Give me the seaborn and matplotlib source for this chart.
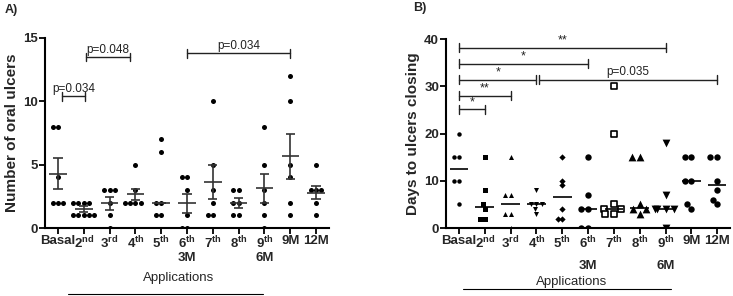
import numpy as np
import pandas as pd
import matplotlib
matplotlib.use("Agg")
import matplotlib.pyplot as plt
import matplotlib.transforms as mtransforms
import seaborn as sns

# groups (applications)
cats = ["Basal", "2nd", "3rd", "4th", "5th", "6th", "7th", "8th", "9th", "9M", "12M"]
tick_labels = ["Basal", r"$\mathbf{2^{nd}}$", r"$\mathbf{3^{rd}}$", r"$\mathbf{4^{th}}$",
               r"$\mathbf{5^{th}}$", r"$\mathbf{6^{th}}$", r"$\mathbf{7^{th}}$",
               r"$\mathbf{8^{th}}$", r"$\mathbf{9^{th}}$", "9M", "12M"]

# A) number of oral ulcers per patient
ulcers = {
    "Basal": [8, 8, 4, 2, 2, 2],
    "2nd": [2, 2, 2, 2, 1, 1, 1, 1, 1],
    "3rd": [3, 3, 3, 2, 1, 0],
    "4th": [5, 3, 2, 2, 2, 2],
    "5th": [7, 6, 2, 2, 1, 1],
    "6th": [4, 4, 3, 1, 0, 0],
    "7th": [10, 5, 3, 2, 1, 1],
    "8th": [3, 3, 2, 2, 1, 1],
    "9th": [8, 5, 3, 2, 1, 0],
    "9M": [12, 10, 5, 4, 2, 1],
    "12M": [5, 3, 3, 3, 2, 1],
}
# mean line and SEM ends as drawn
ulcers_mean = [4.3, 1.5, 2.0, 2.65, 2.0, 2.0, 3.65, 2.0, 3.15, 5.65, 2.8]
ulcers_lo = [3.1, 1.3, 1.4, 2.2, 2.0, 1.2, 2.26, 1.6, 2.0, 3.85, 2.3]
ulcers_hi = [5.5, 1.7, 2.45, 3.1, 2.0, 2.7, 5.0, 2.4, 4.3, 7.4, 3.3]

# B) days to ulcers closing
days = {
    "Basal": [20, 15, 15, 10, 10, 5],
    "2nd": [15, 8, 5, 4, 2, 2],
    "3rd": [15, 7, 7, 3, 3, 0],
    "4th": [8, 5, 5, 5, 4, 3],
    "5th": [15, 10, 9, 4, 2, 2],
    "6th": [15, 7, 4, 4, 0, 0],
    "7th": [30, 20, 5, 4, 4, 3, 3],
    "8th": [15, 15, 5, 4, 4, 3],
    "9th": [18, 7, 4, 4, 4, 4, 0],
    "9M": [15, 15, 10, 10, 5, 4],
    "12M": [15, 15, 10, 8, 6, 5],
}
days_median = [12.5, 4.5, 5, 5, 6.5, 4, 4, 4.3, 4, 10, 9]

# significance brackets: (start, end, height, label)
sig_a = [(0.15, 1.05, 10.4, "p=0.034"), (1.1, 2.8, 13.5, "p=0.048"), (4.98, 9.0, 13.8, "p=0.034")]
sig_b = [(0, 8, 38.2, "**"), (0, 5, 34.8, "*"), (0, 3, 31.4, "*"),
         (3.1, 10, 31.4, "p=0.035"), (0, 2, 28.0, "**"), (0, 1, 25.1, "*")]

markers_b = ["o", "s", "^", "v", "D", "o", "s", "^", "v", "o", "o"]
sizes_b = [3.2, 3.6, 3.6, 3.6, 3.2, 4.6, 5.0, 5.6, 5.6, 4.6, 4.6]

sns.set_style("ticks")
plt.rcParams["font.family"] = ["Liberation Sans", "DejaVu Sans"]
plt.rcParams["mathtext.fontset"] = "custom"
plt.rcParams["mathtext.rm"] = "Liberation Sans"
plt.rcParams["mathtext.bf"] = "Liberation Sans:bold"

df_a = pd.DataFrame([(k, v) for k in cats for v in ulcers[k]], columns=["app", "val"])
df_b = pd.DataFrame([(k, v) for k in cats for v in days[k]], columns=["app", "val"])

fig = plt.figure(figsize=(7.33, 2.96), dpi=100)
ax1 = fig.add_axes([0.0614, 0.2297, 0.3875, 0.642])
ax2 = fig.add_axes([0.6085, 0.2297, 0.3875, 0.6385])


def style_axis(ax, ymax, ystep, ylabel):
    ax.set_xlim(-0.5, 10.5)
    ax.set_ylim(0, ymax)
    ax.set_yticks(np.arange(0, ymax + 1, ystep))
    ax.set_xticks(range(len(cats)))
    ax.set_xticklabels(tick_labels)
    for lab in ax.get_xticklabels() + ax.get_yticklabels():
        lab.set_fontweight("bold")
        lab.set_fontsize(9.5)
    ax.tick_params(axis="both", direction="out", length=4, width=1.3, color="black", pad=1)
    for s in ["left", "bottom"]:
        ax.spines[s].set_linewidth(1.5)
        ax.spines[s].set_color("black")
    sns.despine(ax=ax)
    ax.set_xlabel("")
    ax.set_ylabel(ylabel, fontsize=11, fontweight="bold", labelpad=3)


def brackets(ax, sig, tick):
    for x0, x1, y, lab in sig:
        ax.plot([x0, x1], [y, y], color="#222222", lw=1, clip_on=False)
        ax.plot([x0, x0], [y - tick, y + tick], color="#222222", lw=1, clip_on=False)
        ax.plot([x1, x1], [y - tick, y + tick], color="#222222", lw=1, clip_on=False)
        ax.text((x0 + x1) / 2, y + tick * 0.3, lab, ha="center", va="bottom",
                fontsize=8.5 if lab.startswith("p") else 9, color="#222222", clip_on=False)


# panel A
sns.swarmplot(data=df_a, x="app", y="val", order=cats, color="black", size=3.6, ax=ax1)
pos = np.arange(len(cats))
ax1.hlines(ulcers_mean, pos - 0.34, pos + 0.34, color="#333333", lw=1.2, zorder=3)
ax1.vlines(pos, ulcers_lo, ulcers_hi, color="#333333", lw=1.2, zorder=3)
ax1.hlines(ulcers_lo, pos - 0.18, pos + 0.18, color="#333333", lw=1.2, zorder=3)
ax1.hlines(ulcers_hi, pos - 0.18, pos + 0.18, color="#333333", lw=1.2, zorder=3)
style_axis(ax1, 15, 5, "Number of oral ulcers")
brackets(ax1, sig_a, 0.35)

# panel B
for i, c in enumerate(cats):
    sub = df_b[df_b["app"] == c]
    if c == "7th":
        sns.swarmplot(data=sub, x="app", y="val", order=cats, marker=markers_b[i], size=sizes_b[i],
                      color="white", edgecolor="black", linewidth=1.2, ax=ax2)
    else:
        sns.swarmplot(data=sub, x="app", y="val", order=cats, marker=markers_b[i], size=sizes_b[i],
                      color="black", ax=ax2)
ax2.hlines(days_median, pos - 0.36, pos + 0.36, color="black", lw=1.2, zorder=3)
style_axis(ax2, 40, 10, "Days to ulcers closing")
brackets(ax2, sig_b, 0.9)

# second-line labels and x titles
for ax, yfig in [(ax1, 0.128), (ax2, 0.101)]:
    tr = mtransforms.blended_transform_factory(ax.transData, fig.transFigure)
    ax.text(5, yfig, "3M", transform=tr, ha="center", va="center", fontsize=9.5, fontweight="bold")
    ax.text(8, yfig, "6M", transform=tr, ha="center", va="center", fontsize=9.5, fontweight="bold")

fig.text(0.243, 0.062, "Applications", ha="center", va="center", fontsize=9.5)
fig.add_artist(plt.Line2D([0.093, 0.359], [0.008, 0.008], color="black", lw=0.8))
fig.text(0.78, 0.048, "Applications", ha="center", va="center", fontsize=9.5)
fig.add_artist(plt.Line2D([0.632, 0.916], [0.024, 0.024], color="black", lw=0.8))

fig.text(0.006, 0.965, "A)", ha="left", va="center", fontsize=9, fontweight="bold")
fig.text(0.563, 0.972, "B)", ha="left", va="center", fontsize=9, fontweight="bold")

fig.savefig("out.png", dpi=100)
